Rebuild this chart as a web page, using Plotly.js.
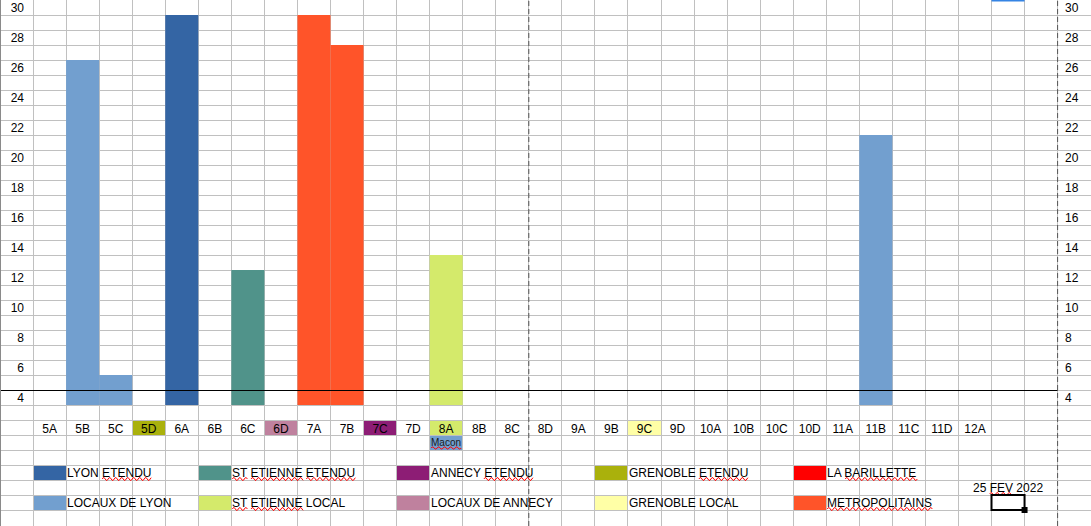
<!DOCTYPE html>
<html><head><meta charset="utf-8">
<script src="https://cdn.plot.ly/plotly-3.0.1.min.js"></script>
<style>html,body{margin:0;padding:0;background:#fff;overflow:hidden}#chart{width:1091px;height:526px}</style>
</head><body><div id="chart"></div>
<script>
// ---- data ----
const categories = ['5A','5B','5C','5D','6A','6B','6C','6D','7A','7B','7C','7D','8A','8B','8C','8D','9A','9B','9C','9D','10A','10B','10C','10D','11A','11B','11C','11D','12A'];
const barCategories = ['5B','5C','6A','6C','7A','7B','8A','11B'];
const barValues = [26.5, 5.5, 29.5, 12.5, 29.5, 27.5, 13.5, 21.5];
const barSeries = ['LOCAUX DE LYON','LOCAUX DE LYON','LYON ETENDU','ST ETIENNE ETENDU','METROPOLITAINS','METROPOLITAINS','ST ETIENNE LOCAL','LOCAUX DE LYON'];
const yTickValues = [4,6,8,10,12,14,16,18,20,22,24,26,28,30];
const yTickLabels = ['4','6','8','10','12','14','16','18','20','22','24','26','28','30'];
const legendTopNames = ['LYON ETENDU','ST ETIENNE ETENDU','ANNECY ETENDU','GRENOBLE ETENDU','LA BARILLETTE'];
const legendTopColors = ['#3465a4','#50938a','#8d1d75','#aab10c','#ff0000'];
const legendBottomNames = ['LOCAUX DE LYON','ST ETIENNE LOCAL','LOCAUX DE ANNECY','GRENOBLE LOCAL','METROPOLITAINS'];
const legendBottomColors = ['#729fcf','#d4ea6b','#bf819e','#ffffa6','#ff5429'];
const highlightCategories = ['5D','6D','7C','8A','9C'];
const highlightSeries = ['GRENOBLE ETENDU','LOCAUX DE ANNECY','ANNECY ETENDU','ST ETIENNE LOCAL','GRENOBLE LOCAL'];
const noteCategory = '8A';
const noteText = 'Macon';
const noteSeries = 'LOCAUX DE LYON';
const dateText = '25 FEV 2022';
// words flagged by the spell checker (red wavy underline)
const flaggedWords = ['ETENDU','ST','ETIENNE','BARILLETTE','METROPOLITAINS','Macon','FEV'];

// ---- layout helpers ----
const W = 1091, H = 526, colW = 33.05, rowH = 15;
const xRange = [-1.5, -1.5 + W / colW];
const yTop = 30.5;
const yRange = [yTop - H / rowH, yTop];
const barBase = 3.5;
const legendSwatchIdx = [0, 5, 11, 17, 23];
const gridColor = '#c0c0c0';
const FONT = 'Liberation Sans, Arial, sans-serif';

const colorOf = {};
legendTopNames.forEach((n, i) => colorOf[n] = legendTopColors[i]);
legendBottomNames.forEach((n, i) => colorOf[n] = legendBottomColors[i]);

const canvas = document.createElement('canvas');
const ctx = canvas.getContext('2d');
function textW(t, size) { ctx.font = size + 'px "Liberation Sans", Arial, sans-serif'; return ctx.measureText(t).width; }

const shapes = [];
const annotations = [];
function cell(ci, yc, color) {
  shapes.push({type: 'rect', xref: 'x2', yref: 'y', x0: ci - 0.5, x1: ci + 0.5, y0: yc - 0.5, y1: yc + 0.5,
    fillcolor: color, line: {width: 0}, layer: 'below'});
}
// wavy red underline for flagged words; startPx = pixel offset of text start from anchor
function squiggles(text, size, xa, ya, startPx, dyPx, amp) {
  let pos = 0;
  text.split(' ').forEach(w => {
    const idx = text.indexOf(w, pos);
    pos = idx + w.length;
    if (flaggedWords.indexOf(w) < 0) return;
    const x0 = startPx + textW(text.slice(0, idx), size), wd = textW(w, size);
    let p = '';
    for (let t = 0; t <= wd + 0.01; t += 1) {
      const yy = dyPx + amp * Math.sin(2 * Math.PI * t / 6);
      p += (t === 0 ? 'M' : ' L') + (x0 + t).toFixed(1) + ',' + yy.toFixed(2);
    }
    shapes.push({type: 'path', xref: 'x2', yref: 'y', xsizemode: 'pixel', ysizemode: 'pixel',
      xanchor: xa, yanchor: ya, path: p, line: {color: '#ff0000', width: 1}});
  });
}
// highlighted category cells (row y=2)
highlightCategories.forEach((c, i) => cell(categories.indexOf(c), 2, colorOf[highlightSeries[i]]));
// note cell
const noteIdx = categories.indexOf(noteCategory);
cell(noteIdx, 1, colorOf[noteSeries]);
annotations.push({xref: 'x2', yref: 'y', x: noteIdx, y: 1, text: noteText, showarrow: false,
  font: {family: FONT, size: 10, color: '#1a1a1a'}, xanchor: 'center', yanchor: 'middle'});
squiggles(noteText, 10, noteIdx, 1, -textW(noteText, 10) / 2, -5.5, 1.2);
// legend
function legendRow(names, colors, yc) {
  names.forEach((n, i) => {
    const ci = legendSwatchIdx[i];
    cell(ci, yc, colors[i]);
    annotations.push({xref: 'x2', yref: 'y', x: ci + 0.5, y: yc, text: n, showarrow: false,
      xanchor: 'left', yanchor: 'middle', font: {family: FONT, size: 12, color: '#000'}, borderpad: 0});
    squiggles(n, 12, ci + 0.5, yc, 1, -6.5, 1.5);
  });
}
legendRow(legendTopNames, legendTopColors, -1);
legendRow(legendBottomNames, legendBottomColors, -3);
// date
annotations.push({xref: 'x2', yref: 'y', x: 29, y: -2, text: dateText, showarrow: false,
  xanchor: 'center', yanchor: 'middle', font: {family: FONT, size: 12, color: '#000'}});
squiggles(dateText, 12, 29, -2, -textW(dateText, 12) / 2, -6.5, 1.5);
// horizontal black line (crisp on pixel row 390)
shapes.push({type: 'line', xref: 'x2', yref: 'y', x0: xRange[0], x1: 30.5, y0: 4.5 - 0.5 / rowH, y1: 4.5 - 0.5 / rowH,
  line: {color: '#000', width: 1}});
// page break dashed lines
[14.5, 30.5].forEach(xv => shapes.push({type: 'line', xref: 'x2', yref: 'paper', x0: xv, x1: xv, y0: 0, y1: 1,
  line: {color: '#555', width: 1, dash: '5px,3px'}}));
// cell cursor
shapes.push({type: 'rect', xref: 'x2', yref: 'y', x0: 28.5, x1: 29.5, y0: -3.5, y1: -2.5, line: {color: '#000', width: 2}});
shapes.push({type: 'rect', xref: 'x2', yref: 'y', xsizemode: 'pixel', ysizemode: 'pixel', xanchor: 29.5, yanchor: -3.5,
  x0: -3, x1: 3, y0: -3, y1: 3, fillcolor: '#000', line: {width: 0}});
// column header highlight at top
shapes.push({type: 'line', xref: 'x2', yref: 'paper', x0: 28.5, x1: 29.5, y0: 1, y1: 1, line: {color: '#3584e4', width: 3}});
// border
shapes.push({type: 'line', xref: 'paper', yref: 'paper', x0: 0, x1: 0, y0: 0, y1: 1, line: {color: '#8a8a8a', width: 2}});

const traces = [
  {type: 'bar', x: barCategories, y: barValues.map(v => v - barBase), base: barBase, width: 1,
   marker: {color: barSeries.map(s => colorOf[s]), line: {width: 0}}, xaxis: 'x', yaxis: 'y', hoverinfo: 'skip'},
  {type: 'scatter', mode: 'markers', x: [null], y: [null], xaxis: 'x2', yaxis: 'y2', hoverinfo: 'skip'}
];

const tickFont = {family: FONT, size: 12, color: '#000'};
const layout = {
  width: W, height: H, margin: {l: 0, r: 0, t: 0, b: 0}, paper_bgcolor: '#fff', plot_bgcolor: '#fff',
  showlegend: false,
  xaxis: {type: 'category', categoryorder: 'array', categoryarray: categories, range: xRange,
    anchor: 'free', position: 1 - 420 / H, showgrid: false, zeroline: false, showline: false, ticks: '',
    tickfont: tickFont, fixedrange: true},
  xaxis2: {overlaying: 'x', type: 'linear', range: xRange, tickmode: 'linear', tick0: -0.5, dtick: 1,
    showgrid: true, gridcolor: gridColor, gridwidth: 1, showticklabels: false, zeroline: false, ticks: '', anchor: 'y'},
  yaxis: {range: yRange, tickmode: 'array', tickvals: yTickValues, ticktext: yTickLabels, showgrid: false,
    zeroline: false, ticks: '', anchor: 'free', position: 24 / W, tickfont: tickFont,
    minor: {tickmode: 'linear', tick0: 0.5, dtick: 1, showgrid: true, gridcolor: gridColor, gridwidth: 1, ticks: ''}},
  yaxis2: {overlaying: 'y', side: 'right', range: yRange, tickmode: 'array', tickvals: yTickValues, ticktext: yTickLabels,
    showgrid: false, zeroline: false, ticks: '', anchor: 'free', position: 1064 / W, tickfont: tickFont},
  shapes: shapes, annotations: annotations
};
Plotly.newPlot('chart', traces, layout, {displayModeBar: false, staticPlot: true});
</script></body></html>
